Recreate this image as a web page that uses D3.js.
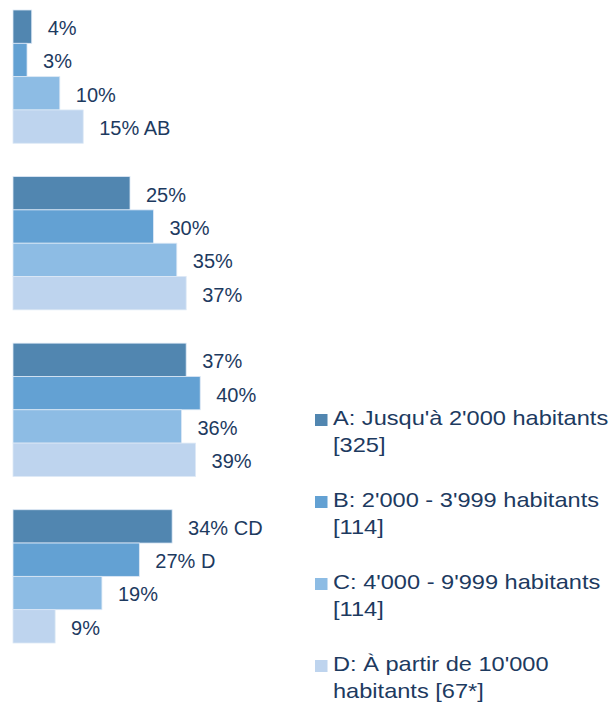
<!DOCTYPE html>
<html>
<head>
<meta charset="utf-8">
<script src="https://cdn.jsdelivr.net/npm/d3@7"></script>
<style>
  body { margin: 0; background: #fff; }
  text { font-family: "Liberation Sans", Arial, sans-serif; fill: #1d3a5f; }
</style>
</head>
<body>
<script>
// groups (no visible labels) and series
var groups = ["g1", "g2", "g3", "g4"];
var series = ["A", "B", "C", "D"];
var valuesA = [4, 25, 37, 34];
var valuesB = [3, 30, 40, 27];
var valuesC = [10, 35, 36, 19];
var valuesD = [15, 37, 39, 9];
var suffixA = ["", "", "", " CD"];
var suffixB = ["", "", "", " D"];
var suffixC = ["", "", "", ""];
var suffixD = [" AB", "", "", ""];
var legendLines = [
  ["A: Jusqu'à 2'000 habitants", "[325]"],
  ["B: 2'000 - 3'999 habitants", "[114]"],
  ["C: 4'000 - 9'999 habitants", "[114]"],
  ["D: À partir de 10'000", "habitants [67*]"]
];
var colors = ["#5186b0", "#63a1d3", "#8dbce4", "#bed4ee"];

var allValues = [valuesA, valuesB, valuesC, valuesD];
var allSuffix = [suffixA, suffixB, suffixC, suffixD];

var width = 615, height = 702;

var svg = d3.select("body").append("svg")
    .attr("width", width)
    .attr("height", height);

// scales
var x = d3.scaleLinear().domain([0, 100]).range([13, 481]);
var y0 = d3.scaleBand().domain(groups).range([10, 643]).paddingInner(0.2).paddingOuter(0);
var y1 = d3.scaleBand().domain(series).range([0, y0.bandwidth()]).padding(0);
var color = d3.scaleOrdinal().domain(series).range(colors);

// flatten into rows
var rows = [];
groups.forEach(function(g, gi) {
  series.forEach(function(s, si) {
    rows.push({ group: g, key: s, value: allValues[si][gi], suffix: allSuffix[si][gi] });
  });
});

var gGroup = svg.selectAll(".grp")
    .data(groups)
  .enter().append("g")
    .attr("class", "grp")
    .attr("transform", function(d) { return "translate(0," + y0(d) + ")"; });

gGroup.selectAll("rect")
    .data(function(g) { return rows.filter(function(r) { return r.group === g; }); })
  .enter().append("rect")
    .attr("x", x(0))
    .attr("y", function(d) { return y1(d.key); })
    .attr("width", function(d) { return x(d.value) - x(0); })
    .attr("height", y1.bandwidth())
    .attr("fill", function(d) { return color(d.key); })
    .attr("stroke", "#dce8f5")
    .attr("stroke-width", 0.8);

gGroup.selectAll("text")
    .data(function(g) { return rows.filter(function(r) { return r.group === g; }); })
  .enter().append("text")
    .attr("x", function(d) { return x(d.value) + 16; })
    .attr("y", function(d) { return y1(d.key) + y1.bandwidth() / 2; })
    .attr("dy", "0.42em")
    .style("font-size", "20px")
    .text(function(d) { return d.value + "%" + d.suffix; });

// legend (text is a bit wider than the labels in the original)
var legend = svg.selectAll(".legend")
    .data(series)
  .enter().append("g")
    .attr("class", "legend")
    .attr("transform", function(d, i) { return "translate(315," + (425 + i * 82) + ")"; });

legend.append("rect")
    .attr("y", -11)
    .attr("width", 12.5)
    .attr("height", 12)
    .attr("fill", function(d) { return color(d); });

legend.append("text")
    .attr("transform", "translate(18,0) scale(1.18,1)")
    .style("font-size", "20px")
    .selectAll("tspan")
    .data(function(d, i) { return legendLines[i]; })
  .enter().append("tspan")
    .attr("x", 0)
    .attr("y", function(d, i) { return i * 27; })
    .text(function(d) { return d; });
</script>
</body>
</html>
